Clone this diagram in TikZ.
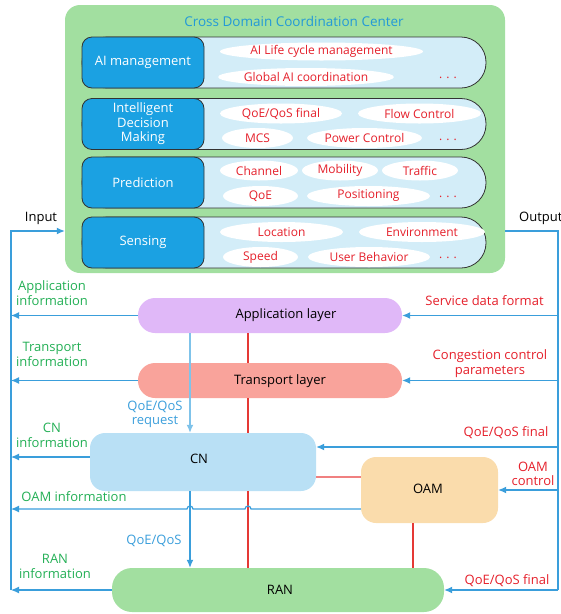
\documentclass[tikz,border=0pt]{standalone}
\usepackage{fontspec}
\setmainfont{Open Sans}
\usetikzlibrary{arrows.meta,shapes.geometric}
\definecolor{cccgreen}{HTML}{A2DFA0}
\definecolor{capblue}{HTML}{D3EDF8}
\definecolor{darkblue}{HTML}{1BA1E2}
\definecolor{edgegray}{HTML}{333333}
\definecolor{titleblue}{HTML}{2299D8}
\definecolor{redc}{HTML}{E5202B}
\definecolor{grnc}{HTML}{23AF55}
\definecolor{bluec}{HTML}{3A9EDB}
\definecolor{lblue}{HTML}{7FC3EA}
\definecolor{redln}{HTML}{E53935}
\definecolor{pinkln}{HTML}{F08080}
\definecolor{appc}{HTML}{E0B8F8}
\definecolor{trc}{HTML}{F9A39B}
\definecolor{cnc}{HTML}{B9E0F5}
\definecolor{oamc}{HTML}{FADCAC}
\definecolor{ranc}{HTML}{A2DFA0}
\begin{document}
\begin{tikzpicture}[x=1pt,y=-1pt,
  every node/.style={font=\fontsize{13}{14.5}\selectfont, inner sep=0pt, align=center},
  ccbox/.style={fill=cccgreen, rounded corners=15pt, minimum width=440pt, minimum height=268pt},
  lcap/.style={fill=capblue, draw=edgegray, line width=0.8pt, rounded corners=25pt, minimum width=404pt, minimum height=51pt},
  dkbox/.style={fill=darkblue, draw=edgegray, line width=0.8pt, rounded corners=10pt, minimum width=122pt, minimum height=51pt, text=white},
  ell/.style={ellipse, fill=white, minimum height=20pt, font=\fontsize{12}{14}\selectfont, text=redc},
  dots/.style={text=redc, font=\fontsize{12}{14}\selectfont},
  lay/.style={rounded corners=17pt, minimum width=264pt, minimum height=35pt},
  blk/.style={rounded corners=15pt},
  redt/.style={text=redc},
  grnt/.style={text=grnc},
  bluet/.style={text=bluec},
  bl/.style={draw=bluec, line width=1.2pt},
  lbl/.style={draw=lblue, line width=1.2pt},
  rl/.style={draw=redln, line width=1.1pt},
  pl/.style={draw=pinkln, line width=1.2pt},
  arr/.style={-{Latex[length=8pt,width=7pt]}}
]
\useasboundingbox (0,0) rectangle (561,614);

% Cross domain coordination center
\node[ccbox] (ccc) at (285,139) {};
\node[text=titleblue, font=\fontsize{13.5}{15}\selectfont] (title) at (294,21) {Cross Domain Coordination Center};

% rows
\node[lcap] (c1) at (284,62.5) {};
\node[lcap] (c2) at (284,124) {};
\node[lcap] (c3) at (284,182.5) {};
\node[lcap] (c4) at (284,242.5) {};
\node[dkbox] (d1) at (143,62.5) {AI management};
\node[dkbox] (d2) at (143,124) {Intelligent\\Decision\\Making};
\node[dkbox] (d3) at (143,182.5) {Prediction};
\node[dkbox] (d4) at (143,242.5) {Sensing};

% row 1
\node[ell, minimum width=203pt, minimum height=18pt] (e11) at (321.5,51.5) {AI Life cycle management};
\node[ell, minimum width=168pt, minimum height=18pt] (e12) at (306,77) {Global AI coordination};
\node[dots] (p1) at (448,78) {. . .};
% row 2
\node[ell, minimum width=122pt] (e21) at (281,113.5) {QoE/QoS final};
\node[ell, minimum width=123pt] (e22) at (419.5,113.5) {Flow Control};
\node[ell, minimum width=71pt] (e23) at (257.5,138) {MCS};
\node[ell, minimum width=115pt] (e24) at (364.5,138) {Power Control};
\node[dots] (p2) at (448,140) {. . .};
% row 3
\node[ell, minimum width=78pt] (e31) at (259,170.5) {Channel};
\node[ell, minimum width=76pt] (e32) at (340,170.5) {Mobility};
\node[ell, minimum width=76pt] (e33) at (420,170.5) {Traffic};
\node[ell, minimum width=75pt] (e34) at (260.5,196) {QoE};
\node[ell, minimum width=123pt] (e35) at (368.5,196) {Positioning};
\node[dots] (p3) at (448,197) {. . .};
% row 4
\node[ell, minimum width=123pt] (e41) at (281.5,232) {Location};
\node[ell, minimum width=126pt] (e42) at (422,232) {Environment};
\node[ell, minimum width=75pt] (e43) at (260.5,257) {Speed};
\node[ell, minimum width=122pt] (e44) at (369,257) {User Behavior};
\node[dots] (p4) at (448,258) {. . .};

% lower blocks
\node[lay, fill=appc] (app) at (270,315.5) {};
\node (appt) at (286,315) {Application layer};
\node[lay, fill=trc] (trans) at (270,380.5) {};
\node (transt) at (280,381) {Transport layer};
\node[blk, fill=cnc, minimum width=226pt, minimum height=58pt] (cn) at (203,462) {};
\node (cnt) at (199,459) {CN};
\node[blk, fill=oamc, minimum width=137pt, minimum height=66pt] (oam) at (429.5,490) {};
\node (oamt) at (428,489) {OAM};
\node[blk, rounded corners=20pt, fill=ranc, minimum width=332pt, minimum height=44pt] (ran) at (278,590) {};
\node (rant) at (280,590) {RAN};

% helper coordinates
\coordinate (bx) at (190,0);
\coordinate (rx) at (248,0);
\coordinate (ox) at (413,0);
\coordinate (lx) at (11,0);
\coordinate (gx) at (558,0);
\coordinate (yin) at (0,231);
\coordinate (ypk) at (0,477);
\coordinate (yoi) at (0,509);
\coordinate (ycn) at (0,457);
\coordinate (ycr) at (0,447);

% red links
\draw[rl] (rx |- app.south) -- (rx |- trans.north);
\draw[rl] (rx |- trans.south) -- (rx |- cn.north);
\draw[rl] (rx |- cn.south) -- (rx |- ran.north);
\draw[rl] (ox |- oam.south) -- (ox |- ran.north);
\draw[pl] (cn.east |- ypk) -- (oam.west |- ypk);

% blue vertical
\draw[lbl, arr] (bx |- app.south) -- (bx |- cn.north);
\draw[bl, arr] (bx |- cn.south) -- (bx |- ran.north);

% OAM information line with hops
\draw[bl, arr] (oam.west |- yoi) -- ([xshift=3pt]rx |- yoi) arc[start angle=0, end angle=180, radius=3pt]
  -- ([xshift=3pt]bx |- yoi) arc[start angle=0, end angle=180, radius=3pt] -- (lx |- yoi);

% input bus
\draw[bl, arr] (lx |- ran.west) -- (lx |- yin) -- (ccc.west |- yin);
\draw[bl, arr] (app.west) -- (lx |- app.west);
\draw[bl, arr] (trans.west) -- (lx |- trans.west);
\draw[bl, arr] (cn.west |- ycn) -- (lx |- ycn);
\draw[bl, arr] (ran.west) -- (lx |- ran.west);

% output bus
\draw[bl] (ccc.east |- yin) -- (gx |- yin) -- (gx |- ran.east);
\draw[bl, arr] (gx |- app.east) -- (app.east);
\draw[bl, arr] (gx |- trans.east) -- (trans.east);
\draw[bl, arr] (gx |- ycr) -- (cn.east |- ycr);
\draw[bl, arr] (gx |- oam.east) -- (oam.east);
\draw[bl, arr] (gx |- ran.east) -- (ran.east);

% labels
\node (lin) at (41,218) {Input};
\node[anchor=west] (lout) at (519,218) {Output};
\node[grnt] (l1) at (52,293) {Application\\information};
\node[grnt] (l2) at (52,354.5) {Transport\\information};
\node[grnt] (l3) at (52,435.5) {CN\\information};
\node[grnt] (l4) at (74,497) {OAM information};
\node[grnt] (l5) at (55,566.5) {RAN\\information};
\node[bluet] (l6) at (155,414.5) {QoE/QoS\\request};
\node[bluet] (l7) at (154,541) {QoE/QoS};
\node[redt] (r1) at (484.5,301) {Service data format};
\node[redt] (r2) at (490,363.5) {Congestion control\\parameters};
\node[redt] (r3) at (506,433) {QoE/QoS final};
\node[redt] (r4) at (533,474) {OAM\\control};
\node[redt] (r5) at (507,581) {QoE/QoS final};
\end{tikzpicture}
\end{document}
